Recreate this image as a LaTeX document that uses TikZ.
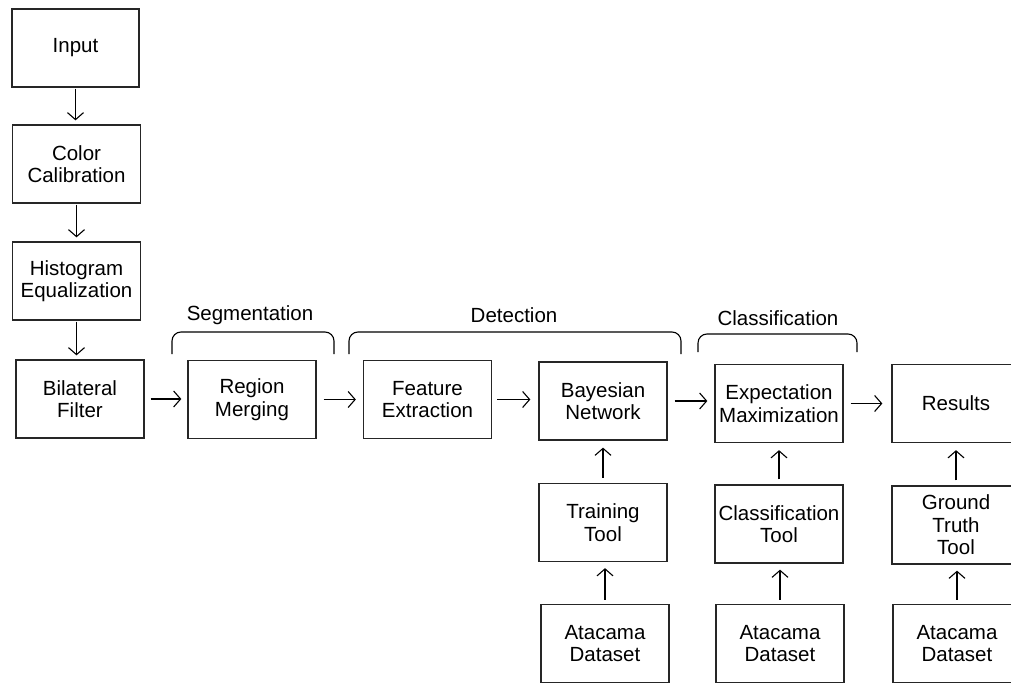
\documentclass[tikz,border=0pt]{standalone}
\usepackage{fontspec}
\setmainfont{Liberation Sans}
\usetikzlibrary{arrows.meta}

\begin{document}
\begin{tikzpicture}[x=1pt, y=-1pt,
    every node/.style={font=\fontsize{20.5}{22.5}\selectfont, align=center},
    box/.style={draw=black!85, line width=1.3pt, minimum width=128pt, minimum height=78pt, inner sep=1pt},
    arr/.style={-{Straight Barb[length=7pt, width=16pt]}, line width=1.1pt},
    brace/.style={line width=1.1pt, rounded corners=9pt}]
  \useasboundingbox (0,0) rectangle (1011,684);

  % preprocessing chain
  \node[box, minimum width=127pt] (input) at (75.5,48) {Input};
  \node[box] (color) at (76.5,164) {Color\\Calibration};
  \node[box] (hist) at (76.5,281) {Histogram\\Equalization};
  \node[box] (bil) at (80,399) {Bilateral\\Filter};

  % main row
  \node[box] (reg) at (252,399.5) {Region\\Merging};
  \node[box] (feat) at (427.5,399.5) {Feature\\Extraction};
  \node[box] (bay) at (603,401) {Bayesian\\Network};
  \node[box] (em) at (779,403.5) {Expectation\\Maximization};
  \node[box] (res) at (956,403.5) {Results};

  % tools and data
  \node[box] (train) at (603,522.5) {Training\\Tool};
  \node[box] (ctool) at (779,524) {Classification\\Tool};
  \node[box] (gtool) at (956,525) {Ground\\Truth\\Tool};
  \node[box] (data1) at (605,643.5) {Atacama\\Dataset};
  \node[box] (data2) at (780,643.5) {Atacama\\Dataset};
  \node[box] (data3) at (957,643.5) {Atacama\\Dataset};

  \draw[arr, shorten <=1pt, shorten >=4pt] (input) -- (input |- color.north);
  \draw[arr, shorten <=1pt, shorten >=4pt] (color) -- (color |- hist.north);
  \draw[arr, shorten <=1pt, shorten >=4pt] (hist) -- (hist |- bil.north);

  \draw[arr, shorten <=6pt, shorten >=6pt] (bil) -- (bil -| reg.west);
  \draw[arr, shorten <=7pt, shorten >=7pt] (reg) -- (reg -| feat.west);
  \draw[arr, shorten <=5pt, shorten >=8pt] (feat) -- (feat -| bay.west);
  \draw[arr, shorten <=7pt, shorten >=7pt] (bay) -- (bay -| em.west);
  \draw[arr, shorten <=7pt, shorten >=9pt] (em) -- (em -| res.west);

  \draw[arr, shorten <=5pt, shorten >=7pt] (train) -- (train |- bay.south);
  \draw[arr, shorten <=5pt, shorten >=7pt] (ctool) -- (ctool |- em.south);
  \draw[arr, shorten <=5pt, shorten >=7pt] (gtool) -- (gtool |- res.south);
  \draw[arr, shorten <=4pt, shorten >=6pt] (data1) -- (data1 |- train.south);
  \draw[arr, shorten <=4pt, shorten >=6pt] (data2) -- (data2 |- ctool.south);
  \draw[arr, shorten <=4pt, shorten >=6pt] (data3) -- (data3 |- gtool.south);

  % stage brackets
  \draw[brace] (172,354) |- (334,332) -- (334,354);
  \draw[brace] (349,354) |- (681,332) -- (681,354);
  \draw[brace] (698,352) |- (857,334) -- (857,352);
  \node (seg) at (250,315) {Segmentation};
  \node (det) at (514,315) {Detection};
  \node (cls) at (778,318) {Classification};
\end{tikzpicture}
\end{document}
